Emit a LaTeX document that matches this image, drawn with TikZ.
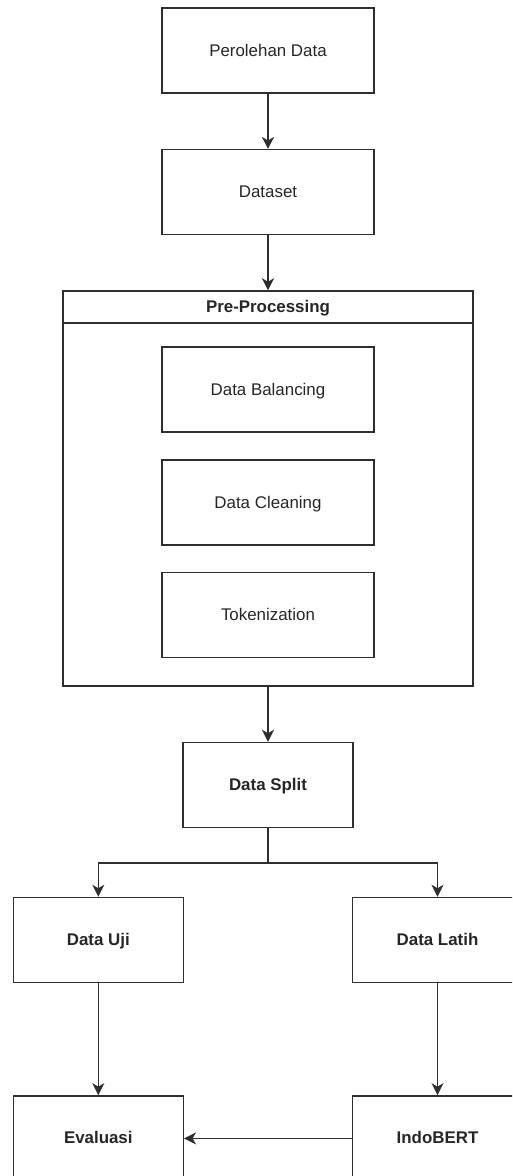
\documentclass[tikz,border=0pt]{standalone}
\usepackage{fontspec}
\setmainfont{Liberation Sans}
\usetikzlibrary{arrows.meta}
\definecolor{linec}{HTML}{2E2E2E}
\tikzset{
  box/.style={draw=linec, line width=1.5pt, rectangle, inner sep=0pt,
    minimum width=212pt, minimum height=85pt, text height=12.2pt, text depth=1.2pt,
    font=\fontsize{16.9}{20}\selectfont, text=black!85},
  sbox/.style={box, minimum width=170pt},
  bbox/.style={sbox, font=\fontsize{16.9}{20}\selectfont\bfseries},
  arr/.style={draw=linec, line width=1.5pt,
    -{Stealth[length=12pt,width=12pt,inset=3.5pt]}},
}
\begin{document}
\begin{tikzpicture}[x=1pt,y=-1pt]
\useasboundingbox (0,0) rectangle (512,1176);
\clip (0,0) rectangle (512,1176);
\node[box] (perolehan) at (268,50.5) {Perolehan Data};
\node[box] (dataset) at (268,192.2) {Dataset};
\node[box, minimum width=410pt, minimum height=395pt] (preframe) at (268,488.5) {};
\node[box, minimum width=410pt, minimum height=32pt, font=\fontsize{16.9}{20}\selectfont\bfseries] (prehead) at (268,307) {Pre-Processing};
\node[box] (balancing) at (268,389.5) {Data Balancing};
\node[box] (cleaning) at (268,502.5) {Data Cleaning};
\node[box] (token) at (268,615) {Tokenization};
\node[bbox] (split) at (268,785) {Data Split};
\node[bbox] (uji) at (98.3,940) {Data Uji};
\node[bbox] (latih) at (437.5,940) {Data Latih};
\node[bbox] (evaluasi) at (98.3,1138.4) {Evaluasi};
\node[bbox] (indobert) at (437.5,1138.4) {IndoBERT};
\draw[arr] (perolehan) -- (dataset);
\draw[arr] (dataset) -- (prehead);
\draw[arr] (preframe) -- (split);
\draw[arr] (split.south) -- ++(0,34.5) -| (uji.north);
\draw[arr] (split.south) -- ++(0,34.5) -| (latih.north);
\draw[arr] (uji) -- (evaluasi);
\draw[arr] (latih) -- (indobert);
\draw[arr] (indobert) -- (evaluasi);
\end{tikzpicture}
\end{document}
